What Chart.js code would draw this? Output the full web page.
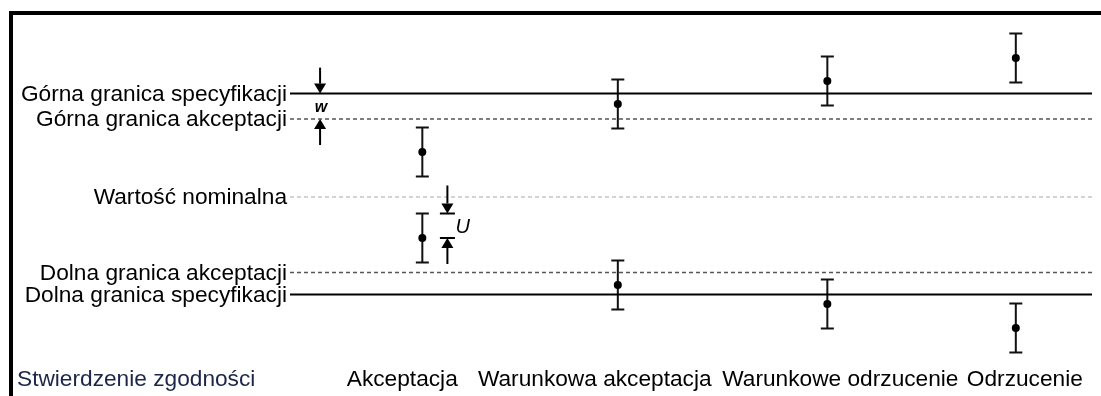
<!DOCTYPE html>
<html>
<head>
<meta charset="utf-8">
<script src="https://cdn.jsdelivr.net/npm/chart.js@4.4.0/dist/chart.umd.min.js"></script>
<style>
  html, body { margin: 0; padding: 0; background: #fff; }
  #wrap { width: 1101px; height: 396px; position: relative; }
</style>
</head>
<body>
<div id="wrap"><canvas id="conformityChart"></canvas></div>
<script>
// Limits, relative to the nominal value (0)
const limitLabels = [
  "Górna granica specyfikacji",
  "Górna granica akceptacji",
  "Wartość nominalna",
  "Dolna granica akceptacji",
  "Dolna granica specyfikacji",
];
const limitValues = [10.34, 7.8, 0, -7.56, -9.76];
const limitKinds = ["spec", "accept", "nominal", "accept", "spec"];

// Decisions and measurement results (point +/- U)
const decisions = [
  "Akceptacja",
  "Warunkowa akceptacja",
  "Warunkowe odrzucenie",
  "Odrzucenie",
];
const decisionX = [1.32, 3.27, 5.36, 7.24];
const upperResults = [4.5, 9.3, 11.6, 13.9];
const lowerResults = [-4.1, -8.8, -10.7, -13.1];
const uncertainty = 2.45;

const rowTitle = "Stwierdzenie zgodności";

const FONT = '"Liberation Sans", Arial, sans-serif';

document.addEventListener("DOMContentLoaded", function () {
  const ctx = document.getElementById("conformityChart").getContext("2d");

  const lineStyles = {
    spec: { color: "#000", width: 2, dash: [] },
    accept: { color: "#555", width: 1.5, dash: [4, 3] },
    nominal: { color: "#a8a8a8", width: 1, dash: [4, 3] },
  };

  const limitDatasets = limitValues.map((v, i) => {
    const st = lineStyles[limitKinds[i]];
    return {
      type: "line",
      label: limitLabels[i],
      data: [{ x: 0, y: v }, { x: 8, y: v }],
      borderColor: st.color,
      borderWidth: st.width,
      borderDash: st.dash,
      pointRadius: 0,
      order: 2,
    };
  });

  const resultDatasets = [upperResults, lowerResults].map((arr, k) => ({
    type: "scatter",
    label: k === 0 ? "wyniki górne" : "wyniki dolne",
    data: arr.map((v, i) => ({ x: decisionX[i], y: v })),
    pointRadius: 4,
    pointBackgroundColor: "#000",
    pointBorderWidth: 0,
    errorBar: true,
    order: 1,
  }));

  // Error bars (+/- U) drawn through the chart scales
  const errorBarPlugin = {
    id: "errorBars",
    beforeDatasetsDraw(chart) {
      const { ctx, scales } = chart;
      ctx.save();
      ctx.strokeStyle = "#111";
      ctx.lineWidth = 2;
      chart.data.datasets.forEach((ds) => {
        if (!ds.errorBar) return;
        ds.data.forEach((p) => {
          const x = scales.x.getPixelForValue(p.x);
          const yTop = scales.y.getPixelForValue(p.y + uncertainty);
          const yBot = scales.y.getPixelForValue(p.y - uncertainty);
          ctx.beginPath();
          ctx.moveTo(x, yTop);
          ctx.lineTo(x, yBot);
          ctx.moveTo(x - 6.5, yTop);
          ctx.lineTo(x + 6.5, yTop);
          ctx.moveTo(x - 6.5, yBot);
          ctx.lineTo(x + 6.5, yBot);
          ctx.stroke();
        });
      });
      ctx.restore();
    },
  };

  function arrow(ctx, x, yTail, yTip) {
    const dir = yTip > yTail ? 1 : -1;
    const head = 10;
    ctx.beginPath();
    ctx.moveTo(x, yTail);
    ctx.lineTo(x, yTip - dir * head);
    ctx.stroke();
    ctx.beginPath();
    ctx.moveTo(x, yTip);
    ctx.lineTo(x - 6, yTip - dir * head);
    ctx.lineTo(x + 6, yTip - dir * head);
    ctx.closePath();
    ctx.fill();
  }

  // Labels, frame and the w / U markers
  const annotationPlugin = {
    id: "annotations",
    afterDraw(chart) {
      const { ctx, scales, chartArea } = chart;
      const xs = scales.x;
      const ys = scales.y;
      ctx.save();

      // frame
      ctx.fillStyle = "#000";
      ctx.fillRect(9, 11, 1101 - 9, 4);
      ctx.fillRect(9, 11, 4, 396 - 11);

      // limit labels
      ctx.font = "22.7px " + FONT;
      ctx.textAlign = "right";
      ctx.textBaseline = "middle";
      ctx.fillStyle = "#000";
      limitLabels.forEach((t, i) => {
        ctx.fillText(t, chartArea.left - 3, ys.getPixelForValue(limitValues[i]) + 1);
      });

      // decision labels
      const labelY = 380;
      ctx.textAlign = "center";
      const labelCenters = [1.12, 3.04, 5.49, 7.33];
      decisions.forEach((t, i) => {
        ctx.fillText(t, xs.getPixelForValue(labelCenters[i]), labelY);
      });
      ctx.textAlign = "left";
      ctx.fillStyle = "#1c2648";
      ctx.fillText(rowTitle, 17, labelY);

      ctx.strokeStyle = "#000";
      ctx.fillStyle = "#000";
      ctx.lineWidth = 2;

      // w: distance between specification and acceptance limit
      const wx = xs.getPixelForValue(0.3);
      const usl = ys.getPixelForValue(limitValues[0]);
      const ual = ys.getPixelForValue(limitValues[1]);
      arrow(ctx, wx, usl - 26, usl);
      arrow(ctx, wx, ual + 26, ual);
      ctx.font = "italic bold 16px " + FONT;
      ctx.textAlign = "center";
      ctx.fillText("w", wx + 1, (usl + ual) / 2 + 1);

      // U: measurement uncertainty on the lower accepted result
      const ux = xs.getPixelForValue(1.57);
      const uTop = ys.getPixelForValue(lowerResults[0] + uncertainty);
      const uPt = ys.getPixelForValue(lowerResults[0]);
      ctx.beginPath();
      ctx.moveTo(ux - 7.5, uTop);
      ctx.lineTo(ux + 7.5, uTop);
      ctx.moveTo(ux - 7.5, uPt);
      ctx.lineTo(ux + 7.5, uPt);
      ctx.stroke();
      arrow(ctx, ux, uTop - 28, uTop);
      arrow(ctx, ux, uPt + 26, uPt);
      ctx.font = "italic 20px " + FONT;
      ctx.textAlign = "left";
      ctx.fillText("U", ux + 8, (uTop + uPt) / 2 + 2);

      ctx.restore();
    },
  };

  new Chart(ctx, {
    data: { datasets: [...limitDatasets, ...resultDatasets] },
    options: {
      responsive: true,
      maintainAspectRatio: false,
      animation: false,
      layout: { padding: { left: 290, right: 9, top: 27, bottom: 39 } },
      plugins: {
        legend: { display: false },
        tooltip: { enabled: false },
      },
      scales: {
        x: { type: "linear", min: 0, max: 8, display: false },
        y: { type: "linear", min: -16, max: 17, display: false },
      },
    },
    plugins: [errorBarPlugin, annotationPlugin],
  });
});
</script>
</body>
</html>
